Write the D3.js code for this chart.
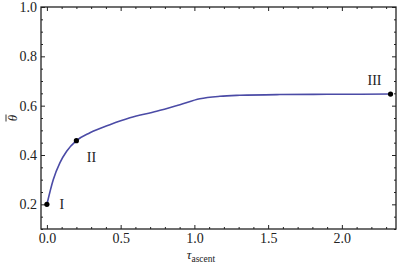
<!DOCTYPE html>
<html>
<head>
<meta charset="utf-8">
<script src="https://d3js.org/d3.v7.min.js"></script>
<style>
  body { margin: 0; background: #fff; }
  text { font-family: "Liberation Serif", "DejaVu Serif", serif; }
</style>
</head>
<body>
<div id="chart"><svg width="399" height="264"></svg></div>
<script>
// curve
var tauVals = [0, 0.043, 0.088, 0.134, 0.2, 0.292, 0.427, 0.563, 0.744, 0.902, 1.037, 1.173, 1.308, 1.58, 1.9, 2.33]
var thetaVals = [0.2, 0.30, 0.368, 0.415, 0.458, 0.490, 0.523, 0.551, 0.577, 0.604, 0.628, 0.638, 0.642, 0.645, 0.646, 0.647]

// marked points
var pointNames = ["I", "II", "III"]
var pointTau = [0, 0.2, 2.33]
var pointTheta = [0.2, 0.458, 0.647]

var xTicks = [0, 0.5, 1.0, 1.5, 2.0]
var yTicks = [0.2, 0.4, 0.6, 0.8, 1.0]

var svg = d3.select("#chart svg")
var pLeft = 41, pRight = 396, pTop = 7, pBottom = 229

var x = d3.scaleLinear().domain([-0.04, 2.367]).range([pLeft, pRight])
var y = d3.scaleLinear().domain([0.1, 1.0]).range([pBottom, pTop])

var fmt = d3.format(".1f")

// frame with ticks (inward, Mathematica style)
function ticks(g, axisFn, scale, major, minor, labels) {
    g.call(axisFn(scale).tickValues(major).tickSize(-4).tickPadding(labels ? 4 : 0)
        .tickFormat(labels ? fmt : ""))
    g.attr("font-family", "Liberation Serif").attr("font-size", 14)
    g.select(".domain").remove()
    g.selectAll("text").attr("fill", "#222")
    var gm = g.append("g")
    gm.call(axisFn(scale).tickValues(minor).tickSize(-2).tickFormat(""))
    gm.select(".domain").remove()
    g.selectAll("line").attr("stroke", "#222")
}
var xMinor = d3.range(0, 24).map(function(i) { return i / 10 }).filter(function(v) {
    return xTicks.every(function(t) { return Math.abs(t - v) > 1e-6 })
})
var yMinor = d3.range(2, 20).map(function(i) { return i / 20 }).filter(function(v) {
    return yTicks.every(function(t) { return Math.abs(t - v) > 1e-6 })
})

ticks(svg.append("g").attr("transform", "translate(0," + pBottom + ")"), d3.axisBottom, x, xTicks, xMinor, true)
ticks(svg.append("g").attr("transform", "translate(0," + pTop + ")"), d3.axisTop, x, xTicks, xMinor, false)
ticks(svg.append("g").attr("transform", "translate(" + pLeft + ",0)"), d3.axisLeft, y, yTicks, yMinor, true)
ticks(svg.append("g").attr("transform", "translate(" + pRight + ",0)"), d3.axisRight, y, yTicks, yMinor, false)

svg.append("rect")
    .attr("x", pLeft).attr("y", pTop)
    .attr("width", pRight - pLeft).attr("height", pBottom - pTop)
    .attr("fill", "none").attr("stroke", "#222").attr("stroke-width", 1.3)

// curve
var pts = tauVals.map(function(t, i) { return [t, thetaVals[i]] })
svg.append("path")
    .datum(pts)
    .attr("fill", "none")
    .attr("stroke", "#4b4ba6")
    .attr("stroke-width", 1.6)
    .attr("d", d3.line().x(function(d) { return x(d[0]) }).y(function(d) { return y(d[1]) }).curve(d3.curveMonotoneX))

// points
svg.selectAll("circle.pt")
    .data(pointNames)
    .enter()
    .append("circle")
    .attr("cx", function(d, i) { return x(pointTau[i]) })
    .attr("cy", function(d, i) { return y(pointTheta[i]) })
    .attr("r", 2.6)
    .attr("fill", "#000")

var labelDx = [15, 15, -16], labelDy = [5, 21, -9]
svg.selectAll("text.lab")
    .data(pointNames)
    .enter()
    .append("text")
    .attr("x", function(d, i) { return x(pointTau[i]) + labelDx[i] })
    .attr("y", function(d, i) { return y(pointTheta[i]) + labelDy[i] })
    .attr("text-anchor", "middle")
    .attr("fill", "#222")
    .style("font-size", "14px")
    .text(function(d) { return d })

// axis titles
var xl = svg.append("text").attr("x", 201).attr("y", 259).attr("text-anchor", "middle").attr("fill", "#222")
xl.append("tspan").style("font-size", "13px").style("font-style", "italic").text("τ")
xl.append("tspan").style("font-size", "9.5px").attr("dy", 3).text("ascent")

var yl = svg.append("g").attr("transform", "translate(13," + y(0.55) + ") rotate(-90)")
yl.append("text").attr("text-anchor", "middle").attr("y", 4).attr("fill", "#222")
    .style("font-size", "13px").style("font-style", "italic").text("θ")
yl.append("line").attr("x1", -3.5).attr("x2", 3.5).attr("y1", -7).attr("y2", -7)
    .attr("stroke", "#222").attr("stroke-width", 0.9)
</script>
</body>
</html>
